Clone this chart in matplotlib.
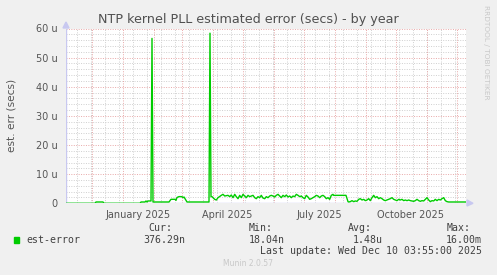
import matplotlib
matplotlib.use("Agg")
import matplotlib.pyplot as plt
import matplotlib.dates as mdates
import numpy as np
import pandas as pd

# --- data (values in microseconds) ---
start = pd.Timestamp("2024-11-05 03:55")
end = pd.Timestamp("2025-12-10 03:55")

day_offset = [0, 29, 30, 37, 38, 74, 75, 79, 80, 81, 82, 85, 86, 87, 103, 105, 109, 110,
              111, 113, 116, 117, 118, 119, 120, 121, 143, 144, 145, 146, 148.7, 150.3, 152,
              155.3, 157, 158.7, 162, 163.7, 165.3, 167, 168.7, 170.3, 172, 173.7, 175.3,
              177, 178.7, 180.3, 182, 183.7, 185.3, 187, 188.7, 190.3, 192, 193.7, 195.3,
              197, 198.7, 200.3, 202, 203.7, 205.3, 207, 208.7, 210.3, 212, 213.7, 215.3,
              217, 218.7, 220.3, 222, 223.7, 225.3, 227, 228.7, 230.3, 232, 233.7, 235.3,
              237, 238.7, 240.3, 242, 243.7, 245.3, 247, 248.7, 250.3, 252, 253.7, 255.3,
              257, 258.7, 260.3, 262, 263.7, 265.3, 267, 267.5, 280, 282, 282.7, 284.3, 286,
              287.7, 289.3, 291, 292.7, 294.3, 296, 297.7, 299.3, 301, 302.7, 304.3, 306,
              307.7, 309.3, 311, 312.7, 314.3, 316, 317.7, 319.3, 321, 322.7, 324.3, 326,
              327.7, 329.3, 331, 332.7, 334.3, 336, 337.7, 339.3, 341, 342.7, 344.3, 346,
              347.7, 349.3, 351, 352.7, 354.3, 356, 357.7, 359.3, 361, 362.7, 364.3, 366,
              367.7, 369.3, 371, 372.7, 374.3, 376, 377.7, 379.3, 381, 382.7, 400]
est_error = [0, 0, 0.45, 0.45, 0, 0, 0.45, 0.45, 0.8, 0.45, 0.8, 0.8, 56.6, 0.45, 0.45, 1.37,
             1.37, 1.0, 2.0, 2.3, 2.28, 1.93, 2.16, 1.6, 1.0, 0.45, 0.45, 58.4, 2.28, 2.28,
             1.36, 1.13, 1.93, 2.73, 3.08, 2.5, 2.73, 2.28, 2.85, 1.93, 3.08, 2.28, 1.59,
             2.73, 1.93, 3.08, 2.5, 1.93, 2.73, 2.28, 2.5, 2.73, 1.93, 1.59, 2.28, 1.93,
             2.73, 1.8, 1.59, 2.28, 1.93, 2.5, 2.73, 2.5, 2.16, 2.73, 3.08, 2.5, 1.93, 2.73,
             2.28, 2.85, 2.16, 2.5, 1.93, 2.5, 2.28, 3.08, 2.73, 2.28, 2.5, 1.93, 1.59, 2.73,
             2.16, 1.36, 1.59, 1.93, 2.28, 2.73, 2.5, 1.93, 2.5, 2.73, 2.28, 1.59, 1.93, 1.36,
             2.73, 3.08, 2.73, 2.73, 0.57, 0.45, 0.57, 0.91, 0.57, 0.8, 0.68, 1.36, 1.59,
             1.13, 1.36, 0.91, 1.13, 1.59, 0.91, 1.93, 2.73, 1.93, 2.28, 1.59, 1.93, 1.59,
             1.13, 0.91, 1.13, 1.36, 1.59, 1.93, 1.36, 1.13, 0.91, 1.36, 1.13, 1.36, 0.91,
             1.13, 0.91, 1.13, 0.91, 0.8, 0.68, 0.91, 1.36, 0.91, 0.68, 0.91, 0.8, 1.36, 1.93,
             1.13, 0.57, 0.91, 0.8, 1.36, 0.91, 1.36, 1.13, 1.59, 1.93, 0.91, 0.57, 0.45, 0.45]

y_ticks = [0, 10, 20, 30, 40, 50, 60]
y_tick_labels = ["0", "10 u", "20 u", "30 u", "40 u", "50 u", "60 u"]
x_label_dates = ["2025-01-16", "2025-04-15", "2025-07-16", "2025-10-16"]

legend_cur = "376.29n"
legend_min = "18.04n"
legend_avg = "1.48u"
legend_max = "16.00m"

dates = start + pd.to_timedelta(day_offset, unit="D")

W, H = 497, 275
fig = plt.figure(figsize=(W / 100, H / 100), dpi=100, facecolor="#F0F0F0")

def px(x, y):
    return x / W, 1 - y / H

ax = fig.add_axes([66 / W, (H - 203.3) / H, 400 / W, 174.8 / H], facecolor="white")
ax.set_xlim(start, end)
ax.set_ylim(0, 60)

# grid: minor grey, major pinkish-red, all dotted
for v in np.arange(2, 60.1, 2):
    if v % 10:
        ax.axhline(v, color="#CFCFCF", lw=0.7, ls=(0, (1, 1.5)), zorder=1)
for v in y_ticks[1:]:
    ax.axhline(v, color="#E8A8A8", lw=0.7, ls=(0, (1, 1.5)), zorder=2)
for d in pd.date_range("2024-11-16", end, freq="14D"):
    ax.axvline(d, color="#CFCFCF", lw=0.7, ls=(0, (1, 1.5)), zorder=1)
for d in pd.date_range("2024-12-01", end, freq="MS"):
    ax.axvline(d, color="#E8A8A8", lw=0.7, ls=(0, (1, 1.5)), zorder=2)

ax.plot(dates, est_error, color="#00CC00", lw=1.0, zorder=4)

for s in ax.spines.values():
    s.set_visible(False)
ax.axvline(start, color="#C8C8F0", lw=1.0, zorder=3)
ax.axhline(0, color="#C8C8F0", lw=1.0, zorder=3)

ax.set_yticks(y_ticks)
ax.set_yticklabels(y_tick_labels)
ax.set_xticks(pd.to_datetime(x_label_dates))
ax.xaxis.set_major_formatter(mdates.DateFormatter("%B %Y"))
ax.tick_params(length=0, labelsize=7, colors="#555555", pad=6)
ax.tick_params(axis="x", pad=5)

# arrows at axis ends
fig.patches.append(plt.Polygon([px(63, 28), px(69, 28), px(66, 22)], closed=True,
                               transform=fig.transFigure, color="#C8C8F0"))
fig.patches.append(plt.Polygon([px(467, 200), px(467, 206), px(473, 203.3)], closed=True,
                               transform=fig.transFigure, color="#C8C8F0"))

fig.text(*px(248, 19), "NTP kernel PLL estimated error (secs) - by year",
         ha="center", va="center", fontsize=9.2, color="#505050")
fig.text(*px(11.5, 115), "est. err (secs)", rotation=90, ha="center", va="center",
         fontsize=7.6, color="#555555")
fig.text(*px(486, 5), "RRDTOOL / TOBI OETIKER", rotation=270, ha="center", va="top",
         fontsize=5.3, color="#C8C8C8")

mono = dict(family="DejaVu Sans Mono", fontsize=7.1, color="#404040", va="center")
fig.patches.append(plt.Rectangle(px(14, 242.7), 5.3 / W, 5.4 / H,
                                 transform=fig.transFigure, color="#00CC00"))
fig.text(*px(26, 240), "est-error", ha="left", **mono)
fig.text(*px(172, 228), "Cur:", ha="right", **mono)
fig.text(*px(185, 240), legend_cur, ha="right", **mono)
fig.text(*px(249, 228), "Min:", ha="left", **mono)
fig.text(*px(285, 240), legend_min, ha="right", **mono)
fig.text(*px(348, 228), "Avg:", ha="left", **mono)
fig.text(*px(383, 240), legend_avg, ha="right", **mono)
fig.text(*px(447, 228), "Max:", ha="left", **mono)
fig.text(*px(482, 240), legend_max, ha="right", **mono)
fig.text(*px(482, 251.5), "Last update: Wed Dec 10 03:55:00 2025", ha="right", **mono)
fig.text(*px(248, 264), "Munin 2.0.57", ha="center", va="center", fontsize=5.5,
         color="#C8C8C8")

fig.savefig("out.png", dpi=100, facecolor=fig.get_facecolor())
